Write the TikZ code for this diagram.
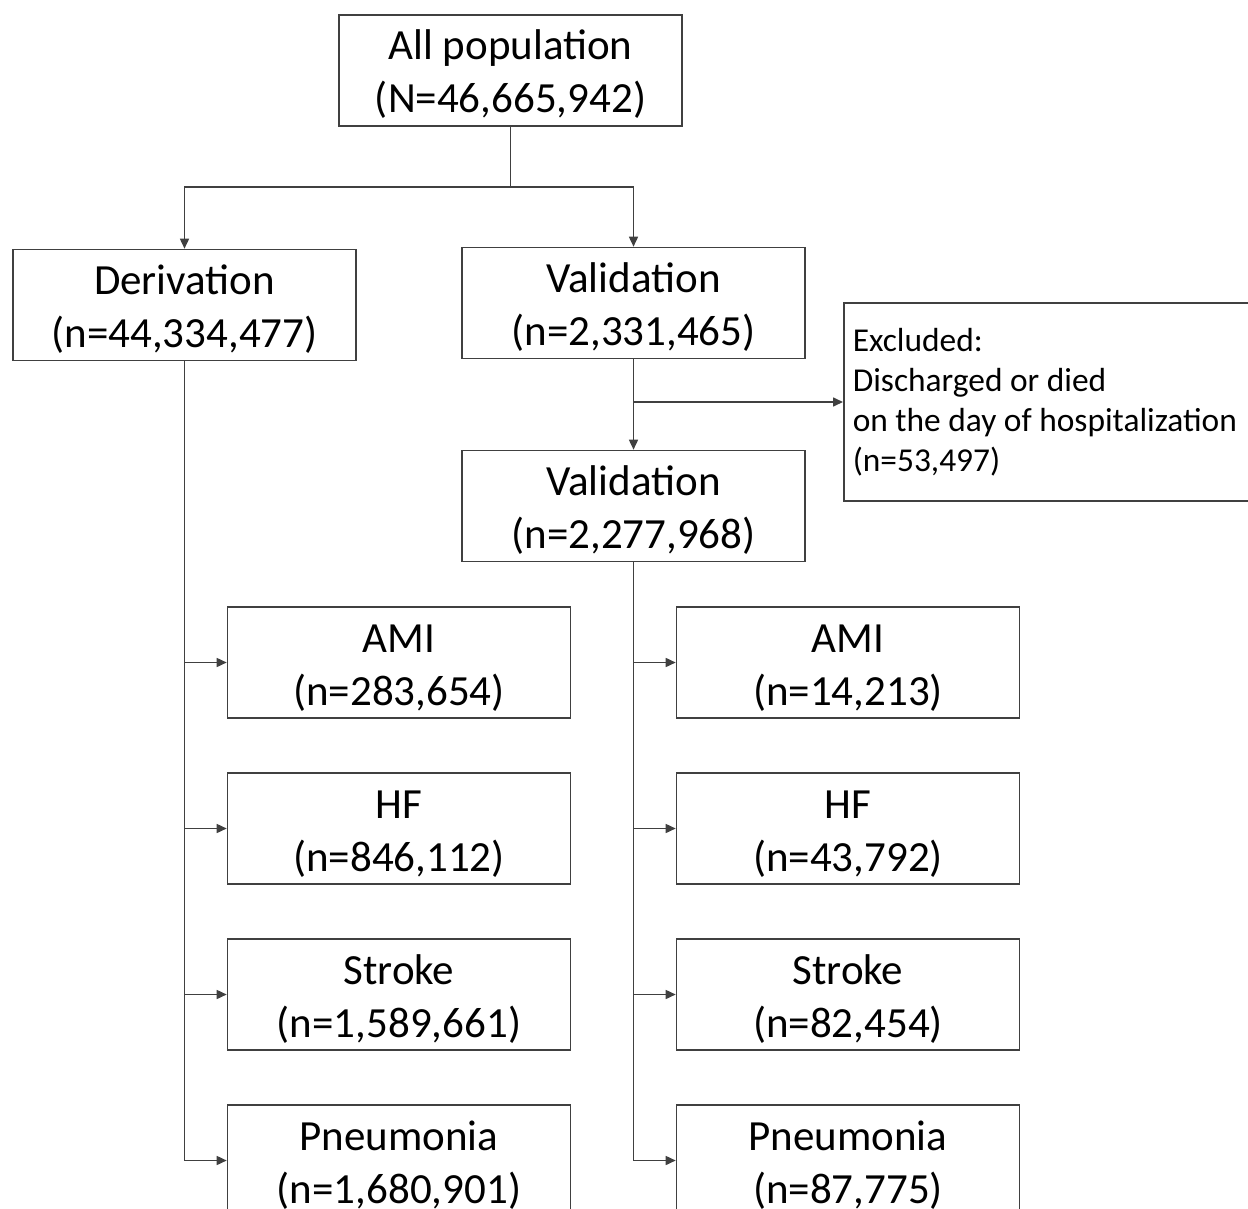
\documentclass[tikz,border=0pt]{standalone}
\usepackage{fontspec}
\setmainfont{Carlito}
\usetikzlibrary{arrows.meta}
\begin{document}
\begin{tikzpicture}[x=0.5pt,y=-0.5pt,
 box/.style={draw=black!75, line width=0.8pt, minimum width=171.5pt, minimum height=55.5pt, inner sep=0pt, align=center, font=\fontsize{21.5}{26.5}\selectfont,
   text height=48.75pt, text depth=6.25pt},
 exbox/.style={draw=black!75, line width=0.8pt, minimum width=205pt, minimum height=99pt, inner xsep=4.5pt, inner ysep=0pt, align=flush left, anchor=west, font=\fontsize{16.7}{20}\selectfont},
 conn/.style={draw=black!75, line width=0.8pt},
 arr/.style={conn, -{Triangle[length=5pt,width=4.5pt]}}]
\useasboundingbox (0,0) rectangle (1248,1209);
\node[box] (all) at (510.5,70.5) {All population\\(N=46,665,942)};
\node[box] (der) at (184.5,305) {Derivation\\(n=44,334,477)};
\node[box] (val1) at (633.5,303) {Validation\\(n=2,331,465)};
\node[exbox, text width=196pt] (excl) at (843,402) {Excluded:\\Discharged or died\\on the day of hospitalization\\(n=53,497)};
\node[box] (val2) at (633.5,506) {Validation\\(n=2,277,968)};
\node[box] (amiL) at (399,662.5) {AMI\\(n=283,654)};
\node[box] (hfL) at (399,828.5) {HF\\(n=846,112)};
\node[box] (stL) at (399,994.5) {Stroke\\(n=1,589,661)};
\node[box] (pnL) at (399,1160.5) {Pneumonia\\(n=1,680,901)};
\node[box] (amiR) at (848,662.5) {AMI\\(n=14,213)};
\node[box] (hfR) at (848,828.5) {HF\\(n=43,792)};
\node[box] (stR) at (848,994.5) {Stroke\\(n=82,454)};
\node[box] (pnR) at (848,1160.5) {Pneumonia\\(n=87,775)};
\coordinate (split) at (510.5,187);
\draw[conn] (all.south) -- (split);
\draw[arr] (split) -| (der.north);
\draw[arr] (split) -| (val1.north);
\draw[arr] (val1.south) -- (val2.north);
\draw[arr] (val1.south |- excl.west) -- (excl.west);
\draw[conn] (der.south) -- (der.south |- pnL.west);
\foreach \t in {amiL,hfL,stL,pnL}{\draw[arr] (der.south |- \t.west) -- (\t.west);}
\draw[conn] (val2.south) -- (val2.south |- pnR.west);
\foreach \t in {amiR,hfR,stR,pnR}{\draw[arr] (val2.south |- \t.west) -- (\t.west);}
\end{tikzpicture}
\end{document}
